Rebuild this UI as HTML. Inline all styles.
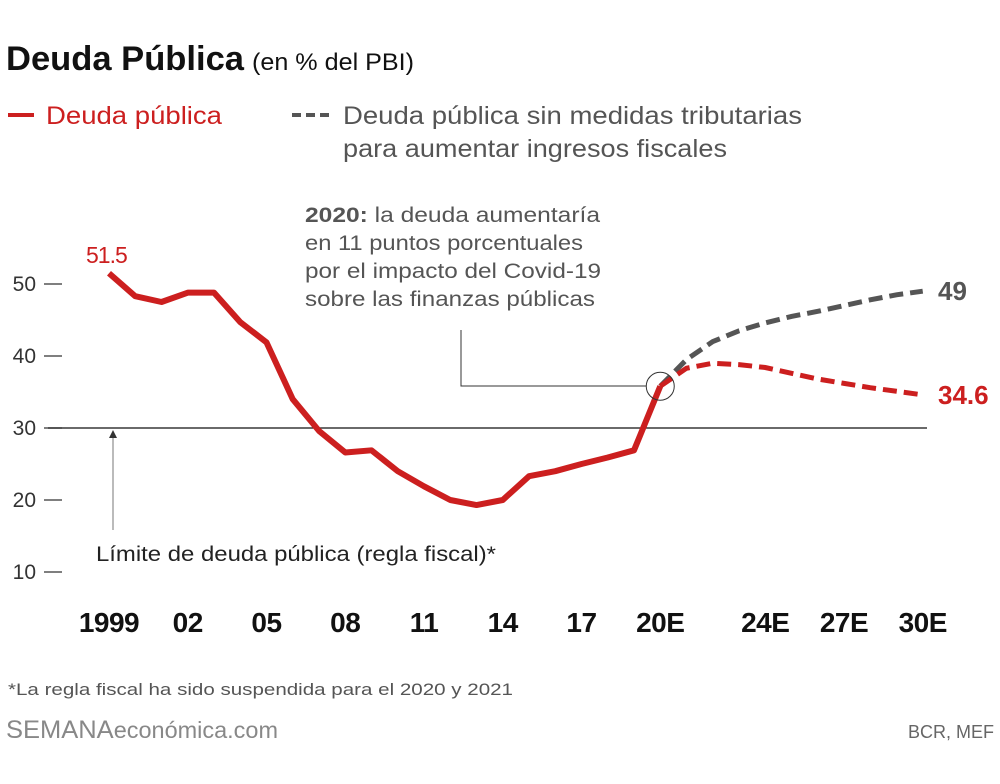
<!DOCTYPE html>
<html><head><meta charset="utf-8">
<style>
body{margin:0;background:#fff;width:1000px;height:779px;overflow:hidden;font-family:"Liberation Sans",sans-serif;}
svg text{font-family:"Liberation Sans",sans-serif;}
</style></head>
<body>
<svg width="1000" height="779" viewBox="0 0 1000 779">
<text x="6" y="70" font-size="34" font-weight="bold" fill="#111" textLength="238" lengthAdjust="spacingAndGlyphs">Deuda Pública</text>
<text x="252" y="70" font-size="24" fill="#111" textLength="162" lengthAdjust="spacingAndGlyphs">(en % del PBI)</text>
<g>
<line x1="8" y1="115" x2="34" y2="115" stroke="#cc1f1f" stroke-width="4"/>
<text x="46" y="124" font-size="25" fill="#cc1f1f" textLength="176" lengthAdjust="spacingAndGlyphs">Deuda pública</text>
<line x1="292" y1="115" x2="332" y2="115" stroke="#555" stroke-width="4" stroke-dasharray="9,5"/>
<text x="343" y="124" font-size="25" fill="#555" textLength="459" lengthAdjust="spacingAndGlyphs">Deuda pública sin medidas tributarias</text>
<text x="343" y="157" font-size="25" fill="#555" textLength="384" lengthAdjust="spacingAndGlyphs">para aumentar ingresos fiscales</text>
</g>
<g id="plot"></g>
<g font-size="21" fill="#555">
<text x="305" y="222" textLength="295" lengthAdjust="spacingAndGlyphs"><tspan font-weight="bold">2020:</tspan> la deuda aumentaría</text>
<text x="305" y="250" textLength="278" lengthAdjust="spacingAndGlyphs">en 11 puntos porcentuales</text>
<text x="305" y="278" textLength="296" lengthAdjust="spacingAndGlyphs">por el impacto del Covid-19</text>
<text x="305" y="306" textLength="290" lengthAdjust="spacingAndGlyphs">sobre las finanzas públicas</text>
</g>
<text x="96" y="561" font-size="21" fill="#222" textLength="400" lengthAdjust="spacingAndGlyphs">Límite de deuda pública (regla fiscal)*</text>
<text x="8" y="695" font-size="17" fill="#555" textLength="505" lengthAdjust="spacingAndGlyphs">*La regla fiscal ha sido suspendida para el 2020 y 2021</text>
<text x="6" y="738" font-size="25" fill="#888" textLength="272" lengthAdjust="spacingAndGlyphs">SEMANA<tspan font-size="23">económica.com</tspan></text>
<text x="994" y="738" font-size="18" fill="#666" text-anchor="end">BCR, MEF</text>
</svg>
<script>
const years=[1999,2000,2001,2002,2003,2004,2005,2006,2007,2008,2009,2010,2011,2012,2013,2014,2015,2016,2017,2018,2019,2020];
const debt=[51.5,48.3,47.5,48.8,48.8,44.7,41.9,34,29.6,26.6,26.9,24,21.9,20,19.3,20,23.3,24,25,25.9,26.9,35.8];
const projYears=[2020,2021,2022,2023,2024,2025,2026,2027,2028,2029,2030];
const projDebt=[35.8,38.3,39,38.8,38.4,37.6,36.8,36.2,35.6,35.1,34.6];
const noMeasures=[35.8,39.5,42,43.5,44.6,45.5,46.2,47,47.8,48.5,49];
const yTicks=[10,20,30,40,50];
const xTickYears=[1999,2002,2005,2008,2011,2014,2017,2020,2024,2027,2030];
const xTickLabels=['1999','02','05','08','11','14','17','20E','24E','27E','30E'];
const limit=30;
const X=y=>109+(y-1999)*26.25, Y=v=>284+(50-v)*7.2;
const NS='http://www.w3.org/2000/svg', g=document.getElementById('plot');
function mk(t,a,p){const e=document.createElementNS(NS,t);for(const k in a)e.setAttribute(k,a[k]);(p||g).appendChild(e);return e;}
yTicks.forEach(v=>{
 const t=mk('text',{x:36,y:Y(v)+7,'font-size':21,fill:'#333','text-anchor':'end'});t.textContent=v;
 
 
 const l=mk('line',{x1:44,x2:62,y1:Y(v),y2:Y(v),stroke:'#333','stroke-width':1.2});
 
 
});
xTickYears.forEach((yr,i)=>{
 const t=mk('text',{x:X(yr),y:632,'font-size':28,'font-weight':'bold',fill:'#111','text-anchor':'middle','letter-spacing':'-0.5'});t.textContent=xTickLabels[i];
 
 
});
const ll=mk('line',{x1:48,x2:927,y1:Y(limit),y2:Y(limit),stroke:'#111','stroke-width':1.3});


const la=mk('line',{x1:113,x2:113,y1:Y(limit)+4,y2:530,stroke:'#777','stroke-width':1});


mk('path',{d:`M109,${Y(limit)+10} L113,${Y(limit)+2} L117,${Y(limit)+10}Z`,fill:'#333'});
const pts=(xs,vs)=>xs.map((y,i)=>X(y)+','+Y(vs[i])).join(' ');
const gl=mk('polyline',{points:pts(projYears,noMeasures),fill:'none',stroke:'#555','stroke-width':5,'stroke-dasharray':'14,7'});


const rp=mk('polyline',{points:pts(projYears,projDebt),fill:'none',stroke:'#cc1f1f','stroke-width':5,'stroke-dasharray':'14,7'});


const rl=mk('polyline',{points:pts(years,debt),fill:'none',stroke:'#cc1f1f','stroke-width':6,'stroke-linejoin':'round'});


const c=mk('circle',{cx:X(2020),cy:Y(debt[debt.length-1]),r:14,fill:'none',stroke:'#333','stroke-width':1});


const cl=mk('polyline',{points:`461,330 461,386 ${X(2020)-14},386`,fill:'none',stroke:'#333','stroke-width':1});


const l1=mk('text',{x:X(1999)-23,y:Y(debt[0])-10,'font-size':23,fill:'#cc1f1f','letter-spacing':'-1'});l1.textContent=debt[0];


const l2=mk('text',{x:938,y:Y(noMeasures[noMeasures.length-1])+9,'font-size':26,'font-weight':'bold',fill:'#555'});l2.textContent=noMeasures[noMeasures.length-1];


const l3=mk('text',{x:938,y:Y(projDebt[projDebt.length-1])+9,'font-size':26,'font-weight':'bold',fill:'#cc1f1f'});l3.textContent=projDebt[projDebt.length-1];


</script>
</body></html>
